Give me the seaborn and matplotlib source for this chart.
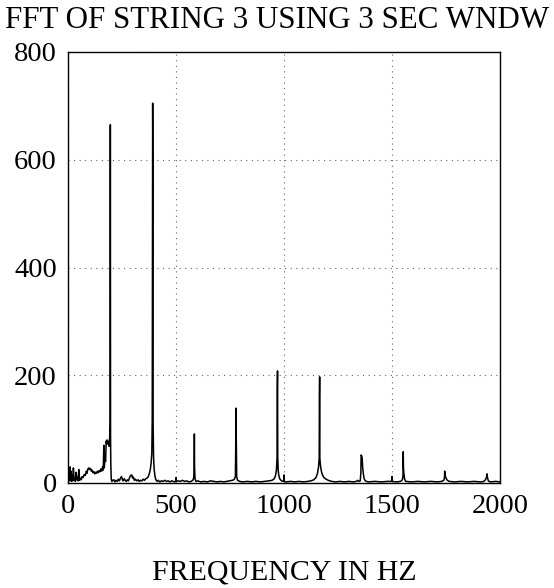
import matplotlib
matplotlib.use("Agg")
import matplotlib.pyplot as plt
import seaborn as sns
import pandas as pd

# ---- data ----
freq_hz = [
    0, 2, 4, 6, 8, 10, 12, 14, 16, 19, 22, 25, 28, 31, 34, 37, 40, 43, 46, 50,
    53, 57, 61, 65, 70, 75, 80, 85, 88, 92, 96, 100, 104, 108, 112, 116, 120,
    124, 128, 132, 136, 140, 144, 148, 152, 156, 160, 163, 166, 168, 171, 174,
    177, 179, 181, 183, 185, 187, 189, 191, 193, 195, 196, 197, 198, 200, 203,
    207, 212, 217, 222, 228, 233, 238, 243, 248, 252, 256, 260, 265, 270, 275,
    280, 285, 290, 295, 299, 303, 307, 312, 318, 324, 330, 336, 342, 348, 354,
    360, 366, 372, 377, 381, 385, 388, 390, 392, 393, 394, 396, 399, 403, 407,
    412, 418, 425, 432, 440, 448, 456, 464, 472, 480, 488, 495, 499, 500, 501,
    510, 520, 530, 540, 550, 560, 570, 578, 582, 584, 585, 586, 588, 592, 600,
    615, 630, 645, 660, 675, 690, 705, 720, 735, 750, 762, 770, 775, 777, 778,
    779, 781, 785, 795, 810, 830, 850, 870, 890, 910, 930, 945, 955, 961, 965,
    968, 969, 970, 971, 973, 976, 980, 986, 995, 999, 1000, 1001, 1010, 1030,
    1050, 1070, 1090, 1110, 1125, 1138, 1148, 1155, 1160, 1163, 1164, 1165,
    1166, 1169, 1173, 1178, 1185, 1195, 1205, 1220, 1240, 1260, 1280, 1300,
    1320, 1335, 1342, 1347, 1353, 1356, 1357, 1360, 1362, 1364, 1367, 1371,
    1376, 1390, 1420, 1450, 1480, 1499, 1500, 1501, 1520, 1540, 1548, 1551,
    1552, 1553, 1555, 1558, 1563, 1590, 1620, 1650, 1680, 1710, 1730, 1740,
    1743, 1744, 1746, 1750, 1756, 1765, 1790, 1820, 1850, 1880, 1910, 1925,
    1933, 1938, 1940, 1942, 1946, 1955, 1980, 2000,
]
amplitude = [
    3, 26, 6, 18, 4, 30, 5, 22, 3, 15, 4, 28, 5, 10, 3, 20, 6, 12, 4, 25,
    5, 9, 6, 12, 10, 16, 14, 22, 18, 26, 28, 25, 27, 22, 24, 19, 21,
    17, 20, 18, 22, 19, 23, 21, 26, 22, 30, 24, 70, 28, 45, 40,
    78, 72, 80, 75, 78, 72, 76, 68, 85, 110, 665, 90, 40, 8, 3,
    5, 6, 2, 5, 3, 7, 4, 9, 12, 6, 4, 8, 5, 3, 6,
    4, 10, 14, 15, 9, 11, 5, 7, 4, 6, 3, 5, 4, 7, 5,
    8, 9, 12, 18, 25, 38, 55, 117, 705, 575, 117, 48, 25, 12, 6,
    3, 5, 2, 4, 3, 5, 3, 4, 2, 4, 3, 2, 3, 10, 3,
    4, 3, 5, 3, 4, 2, 3, 5, 10, 28, 91, 28, 8, 3, 4,
    2, 3, 2, 4, 3, 2, 3, 2, 3, 4, 5, 7, 12, 84, 139,
    84, 12, 5, 3, 2, 3, 2, 3, 2, 3, 4, 5, 8, 14, 24,
    49, 177, 208, 49, 24, 14, 8, 5, 3, 3, 15, 3, 2, 3,
    2, 3, 2, 3, 4, 6, 10, 18, 30, 46, 157, 197,
    46, 32, 22, 15, 10, 7, 5, 3, 2, 3, 2, 3,
    2, 3, 5, 3, 4, 20, 52, 50, 46, 30, 18, 8,
    4, 2, 3, 2, 3, 3, 12, 3, 2, 3, 6, 14,
    58, 30, 18, 8, 3, 2, 3, 2, 3, 2, 3, 5,
    10, 22, 14, 9, 5, 3, 2, 3, 2, 3, 2, 3,
    6, 12, 17, 10, 4, 2, 3, 2,
]
x_ticks = [0, 500, 1000, 1500, 2000]
y_ticks = [0, 200, 400, 600, 800]
title_text = "FFT OF STRING 3 USING 3 SEC WNDW"
xlabel_text = "FREQUENCY IN HZ"

df = pd.DataFrame({"freq": freq_hz, "amp": amplitude})

sns.set_style("white")
plt.rcParams["font.family"] = ["Liberation Serif", "DejaVu Serif"]
plt.rcParams["text.color"] = "black"
plt.rcParams["xtick.color"] = "black"
plt.rcParams["ytick.color"] = "black"

W, H = 554, 588
fig = plt.figure(figsize=(W / 100, H / 100), dpi=100)
ax = fig.add_axes([68 / W, 1 - 483 / H, (500 - 68) / W, (483 - 52) / H])

sns.lineplot(data=df, x="freq", y="amp", ax=ax, color="black",
             linewidth=1.1, estimator=None, sort=False)

ax.set_xlim(0, 2000)
ax.set_ylim(0, 800)
ax.set_xticks(x_ticks)
ax.set_yticks(y_ticks)
ax.set_xticklabels([str(v) for v in x_ticks], fontsize=20.5, color="black")
ax.set_yticklabels([str(v) for v in y_ticks], fontsize=20.5, color="black")
ax.tick_params(axis="x", direction="in", length=0, pad=8)
ax.tick_params(axis="y", direction="in", length=0, pad=8)
ax.grid(True, linestyle=(0, (1, 4)), color="#666666", linewidth=0.8)
ax.set_xlabel("")
ax.set_ylabel("")
for s in ax.spines.values():
    s.set_color("black")
    s.set_linewidth(1.0)

fig.text(5 / W, 1 - 28 / H, title_text, ha="left", va="baseline",
         fontsize=22.3, color="black")
fig.text(284 / W, 1 - 579 / H, xlabel_text, ha="center", va="baseline",
         fontsize=21.5, color="black")

fig.savefig("out.png", dpi=100)
